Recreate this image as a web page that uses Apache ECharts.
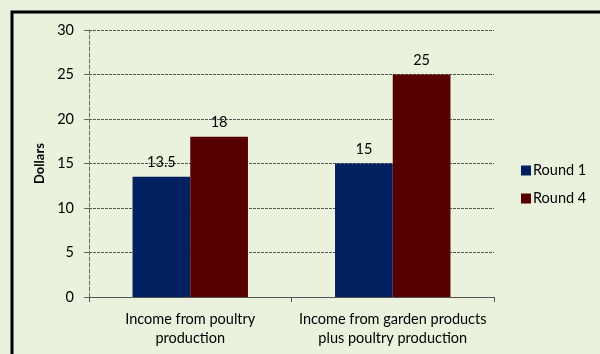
<!DOCTYPE html>
<html lang="en" style="height: 100%">
<head>
    <meta charset="UTF-8">
</head>
<body style="height: 100%; margin: 0">
  <div id="container" style="width: 600px; height: 354px"></div>

  <script type="text/javascript" src="https://fastly.jsdelivr.net/npm/echarts@6/dist/echarts.min.js"></script>

  <script type="text/javascript">
    var categories = ['Income from poultry\nproduction', 'Income from garden products\nplus poultry production'];
    var round1 = [13.5, 15];
    var round4 = [18, 25];
    var yTicks = [0, 5, 10, 15, 20, 25, 30];

    var dom = document.getElementById('container');
    var myChart = echarts.init(dom, null, { renderer: 'canvas' });
    var font = 'Lato';
    var fs = 14.5;

    var option = {
      backgroundColor: '#eaf1dd',
      textStyle: { fontFamily: font },
      graphic: [
        {
          type: 'rect',
          shape: { x: 12, y: 12, width: 620, height: 380 },
          style: { fill: 'none', stroke: '#000', lineWidth: 3 },
          silent: true
        }
      ],
      grid: { left: 89, right: 106, top: 30, bottom: 57 },
      legend: {
        orient: 'vertical',
        left: 516,
        top: 158,
        itemWidth: 10,
        itemHeight: 10,
        itemGap: 13,
        icon: 'rect',
        textStyle: { fontFamily: font, fontSize: fs, color: '#000', padding: [0, 0, 0, -3] },
        data: ['Round 1', 'Round 4']
      },
      xAxis: {
        type: 'category',
        data: categories,
        axisLine: { lineStyle: { color: '#555', width: 1 } },
        axisTick: { show: true, length: 5, lineStyle: { color: '#555' } },
        axisLabel: { interval: 0, fontFamily: font, fontSize: fs, color: '#000', lineHeight: 19, margin: 13 }
      },
      yAxis: {
        type: 'value',
        min: yTicks[0],
        max: yTicks[yTicks.length - 1],
        interval: 5,
        name: 'Dollars',
        nameLocation: 'middle',
        nameGap: 40,
        nameTextStyle: { fontFamily: font, fontSize: 13, fontWeight: 'bold', color: '#000' },
        axisLine: { show: true, lineStyle: { color: '#666', type: 'dashed', width: 1 } },
        axisTick: { show: true, length: 5, lineStyle: { color: '#666' } },
        axisLabel: { fontFamily: font, fontSize: fs, color: '#000', margin: 15 },
        splitLine: { lineStyle: { color: '#555', type: [3, 1], width: 1 } }
      },
      series: [
        {
          name: 'Round 1',
          type: 'bar',
          data: round1,
          barGap: '0%',
          barCategoryGap: '43%',
          itemStyle: { color: '#002060' },
          label: { show: true, position: 'top', distance: 7, fontFamily: font, fontSize: fs, color: '#000' }
        },
        {
          name: 'Round 4',
          type: 'bar',
          data: round4,
          itemStyle: { color: '#560000' },
          label: { show: true, position: 'top', distance: 7, fontFamily: font, fontSize: fs, color: '#000' }
        }
      ]
    };

    myChart.setOption(option);
    window.addEventListener('resize', myChart.resize);
  </script>
</body>
</html>
